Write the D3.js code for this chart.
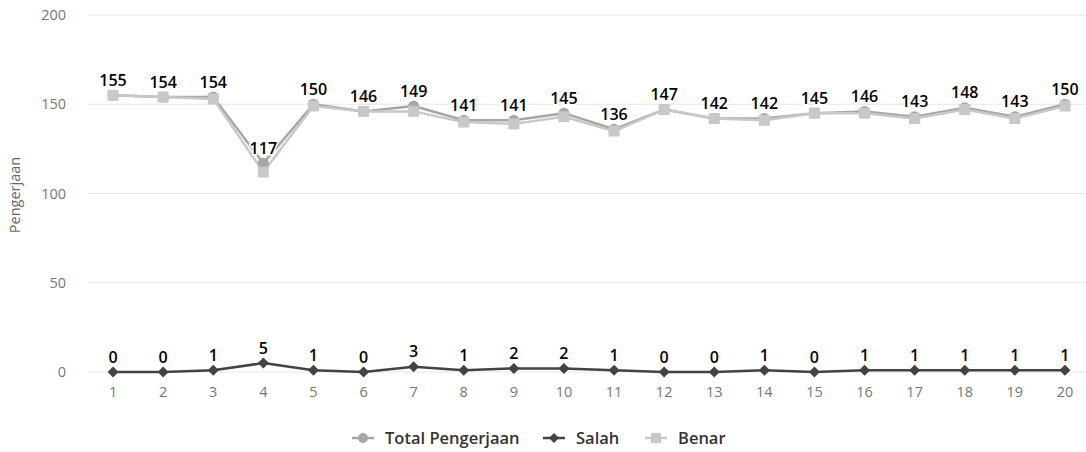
<!DOCTYPE html>
<html><head><meta charset="utf-8">
<script src="https://cdn.jsdelivr.net/npm/d3@7/dist/d3.min.js"></script>
<style>body{margin:0;background:#fff;}svg{display:block;font-family:"Open Sans","DejaVu Sans",sans-serif;}</style>
</head><body>
<svg id="c" width="1086" height="452"></svg>
<script>
const categories = ["1","2","3","4","5","6","7","8","9","10","11","12","13","14","15","16","17","18","19","20"];
const totalPengerjaan = [155,154,154,117,150,146,149,141,141,145,136,147,142,142,145,146,143,148,143,150];
const salah = [0,0,1,5,1,0,3,1,2,2,1,0,0,1,0,1,1,1,1,1];
const benar = [155,154,153,112,149,146,146,140,139,143,135,147,142,141,145,145,142,147,142,149];
const yTicks = [0,50,100,150,200];
const seriesNames = ["Total Pengerjaan","Salah","Benar"];

const svg = d3.select("#c");
const x = d3.scaleBand().domain(categories).range([88, 1090]);
const y = d3.scaleLinear().domain([0,200]).range([372, 15]);
const cx = c => x(c) + x.bandwidth()/2;

svg.append("g").selectAll("line").data(yTicks).join("line")
  .attr("x1", 88).attr("x2", 1086).attr("y1", d=>y(d)).attr("y2", d=>y(d))
  .attr("stroke", "#e6e6e6").attr("stroke-width", 1);

svg.append("g").selectAll("text").data(yTicks).join("text")
  .attr("x", 66).attr("y", d=>y(d)+5).attr("text-anchor","end")
  .attr("fill","#777").attr("font-size", 14.5).text(d=>d);

svg.append("g").selectAll("text").data(categories).join("text")
  .attr("x", d=>cx(d)).attr("y", 397).attr("text-anchor","middle")
  .attr("fill","#777").attr("font-size", 14.5).text(d=>d);

svg.append("text").attr("transform","translate(20,195) rotate(-90)")
  .attr("text-anchor","middle").attr("fill","#666").attr("font-size",14.5).text("Pengerjaan");

const line = d3.line().x((d,i)=>cx(categories[i])).y(d=>y(d));

const markers = {
  circle: r => `M${-r},0A${r},${r} 0 1,0 ${r},0A${r},${r} 0 1,0 ${-r},0Z`,
  diamond: r => `M0,${-r}L${r},0L0,${r}L${-r},0Z`,
  square: r => `M${-r},${-r}H${r}V${r}H${-r}Z`
};

const styles = [
  {data: totalPengerjaan, color:"#a6a6a6", mk:"circle", r:5.5, labels:true},
  {data: salah, color:"#434343", mk:"diamond", r:5.5, labels:true},
  {data: benar, color:"#c8c8c8", mk:"square", r:5.5, labels:false}
];

styles.forEach(s=>{
  svg.append("path").datum(s.data).attr("d", line).attr("fill","none")
    .attr("stroke", s.color).attr("stroke-width", 2.5).attr("stroke-linejoin","round");
});
styles.forEach(s=>{
  svg.append("g").selectAll("path").data(s.data).join("path")
    .attr("transform",(d,i)=>`translate(${cx(categories[i])},${y(d)})`)
    .attr("d", markers[s.mk](s.r)).attr("fill", s.color);
});
styles.forEach(s=>{
  if(!s.labels) return;
  svg.append("g").selectAll("text").data(s.data).join("text")
    .attr("x",(d,i)=>cx(categories[i])).attr("y", d=>y(d)-9.5)
    .attr("text-anchor","middle").attr("font-size",16).attr("font-weight","600")
    .attr("fill","#000").attr("stroke","#fff").attr("stroke-width",3).attr("paint-order","stroke")
    .text(d=>d);
});

const legendX = [352, 543, 645];
seriesNames.forEach((name,i)=>{
  const st = styles[i];
  const g = svg.append("g").attr("transform",`translate(${legendX[i]},438)`);
  g.append("line").attr("x1",0).attr("x2",22).attr("y1",0).attr("y2",0)
    .attr("stroke", st.color).attr("stroke-width",2.5);
  g.append("path").attr("transform","translate(11,0)")
    .attr("d", markers[st.mk](5)).attr("fill", st.color);
  g.append("text").attr("x",33).attr("y",6).attr("font-size",16.5).attr("font-weight","600")
    .attr("fill","#333").text(name);
});
</script>
</body></html>
